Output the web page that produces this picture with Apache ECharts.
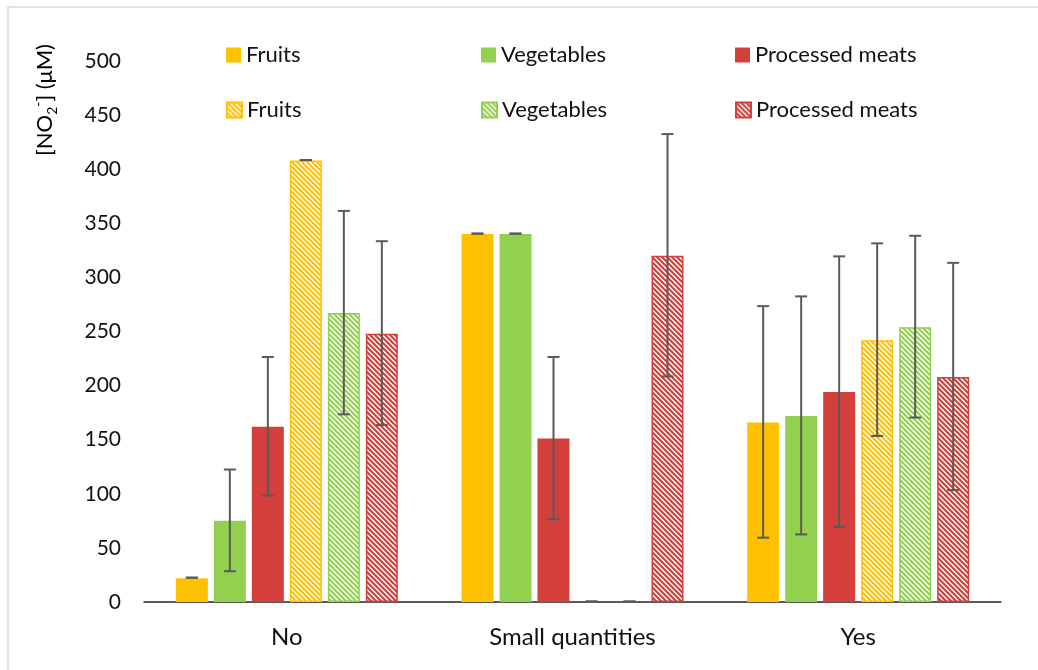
<!DOCTYPE html>
<html>
<head>
<meta charset="utf-8">
<script src="https://cdn.jsdelivr.net/npm/echarts@6/dist/echarts.min.js"></script>
<style>
  html, body { margin: 0; padding: 0; background: #fff; }
  #chart { width: 1038px; height: 670px; }
</style>
</head>
<body>
<div id="chart"></div>
<script>
// Nitrite concentration by consumption group
const categories = ['No', 'Small quantities', 'Yes'];
const legendLabels = ['Fruits', 'Vegetables', 'Processed meats'];

// solid series: means and error half-widths
const fruits = [22, 340, 166];
const fruitsErr = [0, 0, 107];
const vegetables = [75, 340, 172];
const vegetablesErr = [47, 0, 110];
const processed = [162, 151, 194];
const processedErr = [64, 75, 125];

// hatched series: means and error half-widths
const fruitsH = [408, 0, 242];
const fruitsHErr = [0, 0, 89];
const vegetablesH = [267, 0, 254];
const vegetablesHErr = [94, 0, 84];
const processedH = [248, 320, 208];
const processedHErr = [85, 112, 105];

const yTicks = { min: 0, max: 500, interval: 50 };

const COLORS = ['#FFC000', '#92D050', '#D3403C'];
const FONT = 'Lato';
const BAR_W = 32;
const BAR_GAP = 6;

function stripes(color) {
  const s = 5;
  const c = document.createElement('canvas');
  c.width = s; c.height = s;
  const g = c.getContext('2d');
  g.fillStyle = '#ffffff';
  g.fillRect(0, 0, s, s);
  g.strokeStyle = color;
  g.lineWidth = 2.1;
  g.beginPath();
  for (const o of [-s, 0, s]) {
    g.moveTo(o - 1, -1);
    g.lineTo(o + s + 1, s + 1);
  }
  g.stroke();
  return c;
}

const seriesDefs = [
  { id: 's0', label: 0, values: fruits, err: fruitsErr, hatched: false },
  { id: 's1', label: 1, values: vegetables, err: vegetablesErr, hatched: false },
  { id: 's2', label: 2, values: processed, err: processedErr, hatched: false },
  { id: 'h0', label: 0, values: fruitsH, err: fruitsHErr, hatched: true },
  { id: 'h1', label: 1, values: vegetablesH, err: vegetablesHErr, hatched: true },
  { id: 'h2', label: 2, values: processedH, err: processedHErr, hatched: true }
];

const barSeries = seriesDefs.map(d => {
  const col = COLORS[d.label];
  const itemStyle = d.hatched
    ? { color: { image: stripes(col), repeat: 'repeat' }, borderColor: col, borderWidth: 1.5 }
    : { color: col };
  return {
    type: 'bar',
    name: d.id,
    barWidth: BAR_W,
    barGap: (BAR_GAP / BAR_W * 100) + '%',
    itemStyle: itemStyle,
    emphasis: { disabled: true },
    data: d.values.map(v => v === 0 ? { value: v, itemStyle: { borderWidth: 0 } } : v)
  };
});

// error bar rows: [category, low, high, seriesIndex]
const errData = [];
seriesDefs.forEach((d, si) => {
  d.values.forEach((v, ci) => {
    errData.push([ci, v - d.err[ci], v + d.err[ci], si]);
  });
});

const errorSeries = {
  type: 'custom',
  name: 'err',
  z: 10,
  silent: true,
  data: errData,
  encode: { x: 0, y: [1, 2] },
  renderItem: function (params, api) {
    const ci = api.value(0);
    const si = api.value(3);
    const n = seriesDefs.length;
    const x = api.coord([ci, 0])[0] + (si - (n - 1) / 2) * (BAR_W + BAR_GAP);
    const yLo = api.coord([ci, api.value(1)])[1];
    const yHi = api.coord([ci, api.value(2)])[1];
    const hw = 6;
    const st = { stroke: '#5A5A5A', lineWidth: 2 };
    return {
      type: 'group',
      children: [
        { type: 'line', shape: { x1: x, y1: yHi, x2: x, y2: yLo }, style: st },
        { type: 'line', shape: { x1: x - hw, y1: yHi - 0.5, x2: x + hw, y2: yHi - 0.5 }, style: st },
        { type: 'line', shape: { x1: x - hw, y1: yLo - 0.5, x2: x + hw, y2: yLo - 0.5 }, style: st }
      ]
    };
  }
};

// one legend block per entry so the columns line up
const legendCols = [226, 481, 735];
const legendRows = [44, 99];
const legends = seriesDefs.map((d, i) => ({
  data: [d.id],
  left: legendCols[i % 3],
  top: legendRows[Math.floor(i / 3)],
  padding: 0,
  itemWidth: 15,
  itemHeight: 15,
  itemGap: 0,
  icon: 'rect',
  selectedMode: false,
  formatter: () => legendLabels[d.label],
  textStyle: { fontFamily: FONT, fontSize: 22, color: '#111' }
}));

const chart = echarts.init(document.getElementById('chart'));
chart.setOption({
  animation: false,
  backgroundColor: '#ffffff',
  grid: { left: 144, right: 37, top: 61, bottom: 68, containLabel: false },
  legend: legends,
  xAxis: {
    type: 'category',
    data: categories,
    axisLine: { lineStyle: { color: '#262626', width: 1.5 } },
    axisTick: { show: false },
    axisLabel: { fontFamily: FONT, fontSize: 24, color: '#111', margin: 23 }
  },
  yAxis: {
    type: 'value',
    min: yTicks.min,
    max: yTicks.max,
    interval: yTicks.interval,
    axisLine: { show: false },
    axisTick: { show: false },
    splitLine: { show: false },
    axisLabel: { fontFamily: FONT, fontSize: 21, color: '#111', margin: 23 }
  },
  graphic: [
    {
      type: 'rect',
      shape: { x: 8, y: 7, width: 1100, height: 700 },
      style: { fill: 'none', stroke: '#D9D9D9', lineWidth: 1.5 },
      silent: true
    },
    {
      type: 'text',
      x: 45,
      y: 100,
      rotation: Math.PI / 2,
      style: {
        text: '{t|[NO}{sub|2}{sup|-}{t|] (μM)}',
        align: 'center',
        verticalAlign: 'middle',
        rich: {
          t: { fontFamily: FONT, fontSize: 22, color: '#111', lineHeight: 28, verticalAlign: 'middle' },
          sub: { fontFamily: FONT, fontSize: 14, color: '#111', lineHeight: 28, verticalAlign: 'bottom' },
          sup: { fontFamily: FONT, fontSize: 14, color: '#111', lineHeight: 28, verticalAlign: 'top' }
        }
      }
    }
  ],
  series: barSeries.concat([errorSeries])
});
</script>
</body>
</html>
